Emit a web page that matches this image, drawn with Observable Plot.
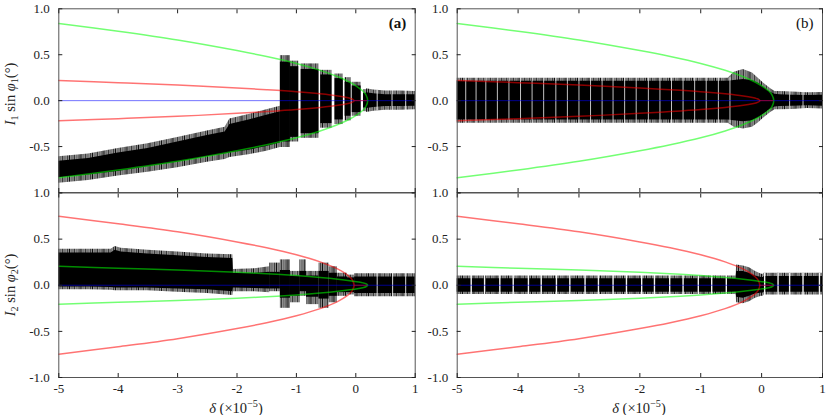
<!DOCTYPE html>
<html>
<head>
<meta charset="utf-8">
<script src="https://cdn.jsdelivr.net/npm/d3@7"></script>
<script src="https://cdn.jsdelivr.net/npm/@observablehq/plot@0.6"></script>
<style>
  body { margin: 0; background: #fff; }
  #wrap { position: relative; width: 830px; height: 415px; overflow: hidden;
          font-family: "Liberation Serif", "DejaVu Serif", serif; color: #222; }
  #wrap svg { position: absolute; }
  .lab { position: absolute; white-space: nowrap; font-size: 14.5px; line-height: 1;
         transform: translate(-50%, -50%); }
  .ylab { transform: translate(-50%, -50%) rotate(-90deg); }
  .lab sub, .lab sup { font-size: 70%; line-height: 0; }
  .lab sub { vertical-align: -0.3em; }
  .lab sup { vertical-align: 0.55em; }
</style>
</head>
<body>
<div id="wrap">
  <div class="lab ylab" style="left:10px;top:94px"><i>I</i><sub>1</sub> sin <i>φ</i><sub>1</sub>(°)</div>
  <div class="lab ylab" style="left:10px;top:285px"><i>I</i><sub>2</sub> sin <i>φ</i><sub>2</sub>(°)</div>
  <div class="lab" style="left:236px;top:408px"><i>δ</i> (×10<sup>−5</sup>)</div>
  <div class="lab" style="left:639px;top:408px"><i>δ</i> (×10<sup>−5</sup>)</div>
</div>
<script>
// ---------------- axes ----------------
const xTickValues = [-5, -4, -3, -2, -1, 0, 1];
const yTickValues = [-1, -0.5, 0, 0.5, 1];
const xDomain = [-5, 1];
const yDomain = [-1, 1];

// ---------------- theoretical branches ----------------
const gTopX  = [-5, -4, -3, -2, -1.5, -1, -0.6, -0.3, -0.1, 0.05, 0.12, 0.17, 0.2];
const gTopUp = [0.84, 0.755, 0.66, 0.545, 0.48, 0.405, 0.33, 0.26, 0.2, 0.14, 0.105, 0.064, 0];
const gTopDn = [-0.84, -0.755, -0.66, -0.545, -0.48, -0.405, -0.33, -0.26, -0.2, -0.14, -0.105, -0.064, 0];
const rTopX  = [-5, -4, -3, -2, -1.5, -1, -0.6, -0.3, -0.15, -0.08, -0.05, -0.03];
const rTopUp = [0.22, 0.196, 0.171, 0.138, 0.119, 0.097, 0.074, 0.051, 0.034, 0.022, 0.014, 0];
const rTopDn = [-0.22, -0.196, -0.171, -0.138, -0.119, -0.097, -0.074, -0.051, -0.034, -0.022, -0.014, 0];
const rBotX  = [-5, -4, -3, -2, -1.5, -1, -0.6, -0.3, -0.15, -0.08, -0.05, -0.03];
const rBotUp = [0.747, 0.667, 0.58, 0.47, 0.406, 0.33, 0.253, 0.174, 0.116, 0.075, 0.047, 0];
const rBotDn = [-0.747, -0.667, -0.58, -0.47, -0.406, -0.33, -0.253, -0.174, -0.116, -0.075, -0.047, 0];
const gBotX  = [-5, -4, -3, -2, -1.5, -1, -0.6, -0.3, -0.1, 0.05, 0.12, 0.17, 0.2];
const gBotUp = [0.205, 0.185, 0.165, 0.14, 0.125, 0.105, 0.085, 0.066, 0.05, 0.035, 0.026, 0.016, 0];
const gBotDn = [-0.205, -0.185, -0.165, -0.14, -0.125, -0.105, -0.085, -0.066, -0.05, -0.035, -0.026, -0.016, 0];
const blueZeroX = [-5, 1];
const redZeroX = [-0.03, 0.2];

// ---------------- simulated signal envelopes ----------------
// (a)
const aX   = [-5, -4.5, -4, -3.5, -3, -2.5, -2.2, -2.12, -1.8, -1.5, -1.27, 0.18, 0.3, 0.5, 0.75, 1];
const aSeg = [0, 0, 0, 0, 0, 0, 0, 0, 0, 0, 0, 1, 1, 1, 1, 1];
const aHi  = [-0.66, -0.63, -0.57, -0.52, -0.45, -0.38, -0.34, -0.26, -0.21, -0.16, -0.12, 0.085, 0.075, 0.065, 0.065, 0.065];
const aLo  = [-0.84, -0.81, -0.77, -0.72, -0.67, -0.61, -0.58, -0.57, -0.54, -0.50, -0.46, -0.085, -0.075, -0.065, -0.065, -0.06];
const aFHi = [-0.61, -0.58, -0.52, -0.47, -0.40, -0.33, -0.29, -0.20, -0.15, -0.10, -0.06, 0.13, 0.115, 0.105, 0.105, 0.10];
const aFLo = [-0.90, -0.87, -0.82, -0.78, -0.73, -0.67, -0.64, -0.62, -0.59, -0.55, -0.51, -0.13, -0.115, -0.105, -0.105, -0.10];
const aBx1  = [-1.27, -1.10, -0.92, -0.59, -0.35, -0.18, -0.06, 0.13];
const aBx2  = [-1.10, -0.96, -0.62, -0.40, -0.21, -0.08, 0.09, 0.20];
const aBTop = [0.49, 0.43, 0.40, 0.33, 0.29, 0.25, 0.20, 0.12];
const aBBot = [-0.51, -0.45, -0.41, -0.30, -0.26, -0.22, -0.17, -0.12];
const aBCTop = [0.42, 0.37, 0.34, 0.28, 0.24, 0.20, 0.16, 0.08];
const aBCBot = [-0.45, -0.40, -0.36, -0.25, -0.21, -0.17, -0.13, -0.08];
const aGaps = [0.36, 0.61, 0.84];
const aGapHalf = 0.11;

// (b)
const bX   = [-5, -0.55, -0.45, -0.3, -0.15, -0.05, 0.05, 0.15, 0.22, 0.3, 0.5, 0.75, 1];
const bSeg = [0, 0, 0, 0, 0, 0, 0, 0, 0, 0, 0, 0, 0];
const bHi  = [0.21, 0.21, 0.22, 0.23, 0.22, 0.19, 0.14, 0.09, 0.07, 0.065, 0.06, 0.055, 0.06];
const bLo  = [-0.21, -0.21, -0.22, -0.23, -0.22, -0.19, -0.14, -0.09, -0.07, -0.065, -0.06, -0.055, -0.06];
const bFHi = [0.245, 0.245, 0.31, 0.34, 0.30, 0.24, 0.18, 0.13, 0.10, 0.10, 0.095, 0.085, 0.09];
const bFLo = [-0.245, -0.245, -0.29, -0.31, -0.29, -0.24, -0.18, -0.13, -0.10, -0.10, -0.095, -0.085, -0.09];
const bGaps = [-4.86, -4.69, -4.53, -4.34, -4.15, -3.96, -3.77, -3.58, -3.38, -3.19, -3.0, -2.81, -2.62,
               -2.44, -2.25, -2.06, -1.86, -1.67, -1.48, -1.29, -1.10, -0.91, -0.71, -0.52, 0.46, 0.68];
const bGapHalf = 0.25;

// (c)
const cX   = [-5, -4.5, -4.12, -4.05, -3.95, -3.5, -3, -2.5, -2.07, -2.06, -1.7, -1.45, -0.02, 0.2, 0.5, 0.8, 1];
const cSeg = [0, 0, 0, 0, 0, 0, 0, 0, 0, 0, 0, 0, 1, 1, 1, 1, 1];
const cHi  = [0.35, 0.35, 0.35, 0.38, 0.36, 0.34, 0.32, 0.30, 0.29, 0.13, 0.13, 0.14, 0.09, 0.09, 0.09, 0.09, 0.09];
const cLo  = [-0.02, -0.02, -0.025, -0.03, -0.03, -0.03, -0.04, -0.05, -0.07, -0.03, -0.035, -0.04, -0.09, -0.09, -0.09, -0.09, -0.09];
const cFHi = [0.39, 0.39, 0.39, 0.42, 0.40, 0.38, 0.36, 0.34, 0.33, 0.17, 0.18, 0.20, 0.125, 0.125, 0.125, 0.125, 0.125];
const cFLo = [-0.05, -0.05, -0.055, -0.06, -0.06, -0.06, -0.075, -0.09, -0.11, -0.07, -0.07, -0.08, -0.125, -0.125, -0.125, -0.125, -0.125];
const cBx1  = [-1.45, -1.27, -1.10, -0.94, -0.83, -0.62, -0.45, -0.31, -0.14];
const cBx2  = [-1.27, -1.10, -0.94, -0.83, -0.62, -0.45, -0.31, -0.14, -0.02];
const cBTop = [0.24, 0.275, 0.15, 0.275, 0.15, 0.24, 0.20, 0.13, 0.11];
const cBBot = [-0.07, -0.25, -0.19, -0.12, -0.21, -0.25, -0.19, -0.12, -0.105];
const cBCTop = [0.14, 0.16, 0.10, 0.15, 0.10, 0.15, 0.13, 0.09, 0.08];
const cBCBot = [-0.04, -0.14, -0.12, -0.07, -0.13, -0.15, -0.12, -0.08, -0.08];
const cGaps = [0.36, 0.62, 0.84];
const cGapHalf = 0.13;

// (d)
const dX   = [-5, -0.42, -0.41, -0.3, -0.2, -0.1, 0.0, 0.03, 0.04, 1];
const dSeg = [0, 0, 0, 0, 0, 0, 0, 0, 0, 0];
const dHi  = [0.07, 0.07, 0.15, 0.15, 0.13, 0.10, 0.085, 0.085, 0.095, 0.095];
const dLo  = [-0.075, -0.075, -0.13, -0.14, -0.12, -0.095, -0.085, -0.085, -0.075, -0.075];
const dFHi = [0.10, 0.10, 0.22, 0.21, 0.19, 0.15, 0.12, 0.12, 0.13, 0.13];
const dFLo = [-0.10, -0.10, -0.19, -0.20, -0.18, -0.14, -0.12, -0.12, -0.105, -0.105];
const dGaps = [-4.77, -4.55, -4.30, -4.08, -3.83, -3.62, -3.37, -3.15, -2.90, -2.68, -2.44, -2.22,
               -1.97, -1.76, -1.51, -1.29, -1.04, -0.82, -0.58, 0.05, 0.27, 0.46, 0.68, 0.95];
const dGapHalf = 0.13;

// ---------------- helpers ----------------
const bandRows = (x, seg, hi, lo, fhi, flo) =>
  x.map((v, i) => ({x: v, seg: seg[i], hi: hi[i], lo: lo[i], fhi: fhi[i], flo: flo[i]}));
const burstRows = (x1, x2, top, bot, ctop, cbot) =>
  x1.map((v, i) => ({x1: v, x2: x2[i], top: top[i], bot: bot[i], ctop: ctop[i], cbot: cbot[i]}));
const loopRows = (x, up, dn) => {
  const r = x.map((v, i) => ({x: v, y: up[i]}));
  for (let i = x.length - 2; i >= 0; i--) r.push({x: x[i], y: dn[i]});
  return r;
};

const GREEN = "#00ff00", RED = "#ff0000", BLUE = "#0000ff";
const LINE_OP = 0.55;
let panelCount = 0;

// irregular fine hatching used for the grey, spiky fringe of the signal (texture only)
const hatch = [[0, 1.0, 0.95], [1.2, 0.8, 0.55], [2.3, 1.1, 0.85], [3.6, 0.8, 0.6], [4.7, 1.0, 0.95],
               [6.0, 0.8, 0.5], [7.0, 1.1, 0.8], [8.3, 0.8, 0.65], [9.4, 1.0, 0.9], [10.7, 0.8, 0.55]];

function panel(cfg) {
  const pid = "fz" + (panelCount++);
  const FUZZ = `url(#${pid})`;
  const marks = [
    Plot.areaY(cfg.band, {x: "x", y1: "flo", y2: "fhi", z: "seg", fill: FUZZ}),
    Plot.areaY(cfg.band, {x: "x", y1: "lo", y2: "hi", z: "seg", fill: "#000"})
  ];
  if (cfg.bursts) {
    marks.push(Plot.rect(cfg.bursts, {x1: "x1", x2: "x2", y1: "bot", y2: "top", fill: FUZZ}));
    marks.push(Plot.rect(cfg.bursts, {x1: "x1", x2: "x2", y1: "cbot", y2: "ctop", fill: "#000"}));
  }
  marks.push(
    Plot.ruleX(cfg.gaps, {x: d => d, y1: -cfg.gapHalf, y2: cfg.gapHalf, stroke: "#fff",
      strokeWidth: cfg.gapWidth, strokeOpacity: cfg.gapOpacity}),
    Plot.line(cfg.outer, {x: "x", y: "y", stroke: cfg.outerColor, strokeOpacity: LINE_OP, curve: "catmull-rom"}),
    Plot.line(cfg.inner, {x: "x", y: "y", stroke: cfg.innerColor, strokeOpacity: LINE_OP, curve: "catmull-rom"}),
    Plot.ruleY([0], {x1: blueZeroX[0], x2: blueZeroX[1], stroke: BLUE, strokeOpacity: LINE_OP}),
    Plot.ruleY([0], {x1: redZeroX[0], x2: redZeroX[1], stroke: RED, strokeOpacity: LINE_OP}),
    Plot.frame({stroke: "#555"}),
    Plot.axisY(yTickValues, {anchor: "left", tickSize: -4, tickPadding: 13, label: null,
      tickFormat: d => (cfg.hideMinY && d === -1) ? "" : d.toFixed(1)}),
    Plot.axisY(yTickValues, {anchor: "right", tickSize: -4, label: null, tickFormat: () => ""}),
    Plot.axisX(xTickValues, {anchor: "bottom", tickSize: -4, tickPadding: 10, label: null,
      tickFormat: cfg.xLabels ? (d => String(d)) : () => ""}),
    Plot.axisX(xTickValues, {anchor: "top", tickSize: -4, label: null, tickFormat: () => ""}),
    Plot.text([cfg.tag], {text: d => d, frameAnchor: "top-right", dx: -9, dy: 9, lineAnchor: "top",
      textAnchor: "end", fontSize: 15, fontWeight: cfg.bold ? "bold" : "normal", fill: "#111"})
  );
  const svg = Plot.plot({
    width: cfg.width, height: cfg.height,
    marginLeft: cfg.ml, marginRight: cfg.mr, marginTop: cfg.mt, marginBottom: cfg.mb,
    x: {domain: xDomain}, y: {domain: yDomain},
    style: {fontFamily: "'Liberation Serif', 'DejaVu Serif', serif", fontSize: "13px",
            background: "transparent", overflow: "visible", color: "#222"},
    marks
  });
  const ns = "http://www.w3.org/2000/svg";
  const defs = document.createElementNS(ns, "defs");
  defs.innerHTML = `<pattern id="${pid}" width="11.5" height="6" patternUnits="userSpaceOnUse">` +
    hatch.map(([x, w, o]) => `<rect x="${x}" y="0" width="${w}" height="6" fill="#000" fill-opacity="${o}"></rect>`).join("") +
    `</pattern>`;
  svg.insertBefore(defs, svg.firstChild);
  svg.style.left = cfg.left + "px";
  svg.style.top = cfg.top + "px";
  document.getElementById("wrap").appendChild(svg);
}

const outerTop = loopRows(gTopX, gTopUp, gTopDn);
const innerTop = loopRows(rTopX, rTopUp, rTopDn);
const outerBot = loopRows(rBotX, rBotUp, rBotDn);
const innerBot = loopRows(gBotX, gBotUp, gBotDn);

panel({left: 0, top: 0, width: 420, height: 200, ml: 58.3, mr: 5.3, mt: 8.3, mb: 8,
  band: bandRows(aX, aSeg, aHi, aLo, aFHi, aFLo),
  bursts: burstRows(aBx1, aBx2, aBTop, aBBot, aBCTop, aBCBot),
  gaps: aGaps, gapHalf: aGapHalf, gapWidth: 1, gapOpacity: 0.85,
  outer: outerTop, outerColor: GREEN, inner: innerTop, innerColor: RED,
  hideMinY: true, xLabels: false, tag: "(a)", bold: true});
panel({left: 416, top: 0, width: 414, height: 200, ml: 40.7, mr: 8, mt: 8.3, mb: 8,
  band: bandRows(bX, bSeg, bHi, bLo, bFHi, bFLo),
  gaps: bGaps, gapHalf: bGapHalf, gapWidth: 0.9, gapOpacity: 0.85,
  outer: outerTop, outerColor: GREEN, inner: innerTop, innerColor: RED,
  hideMinY: true, xLabels: false, tag: "(b)", bold: false});
panel({left: 0, top: 184, width: 420, height: 231, ml: 58.3, mr: 5.3, mt: 8.5, mb: 38,
  band: bandRows(cX, cSeg, cHi, cLo, cFHi, cFLo),
  bursts: burstRows(cBx1, cBx2, cBTop, cBBot, cBCTop, cBCBot),
  gaps: cGaps, gapHalf: cGapHalf, gapWidth: 1, gapOpacity: 0.85,
  outer: outerBot, outerColor: RED, inner: innerBot, innerColor: GREEN,
  hideMinY: false, xLabels: true, tag: "", bold: false});
panel({left: 416, top: 184, width: 414, height: 231, ml: 40.7, mr: 8, mt: 8.5, mb: 38,
  band: bandRows(dX, dSeg, dHi, dLo, dFHi, dFLo),
  gaps: dGaps, gapHalf: dGapHalf, gapWidth: 1.4, gapOpacity: 0.95,
  outer: outerBot, outerColor: RED, inner: innerBot, innerColor: GREEN,
  hideMinY: false, xLabels: true, tag: "", bold: false});
</script>
</body>
</html>
